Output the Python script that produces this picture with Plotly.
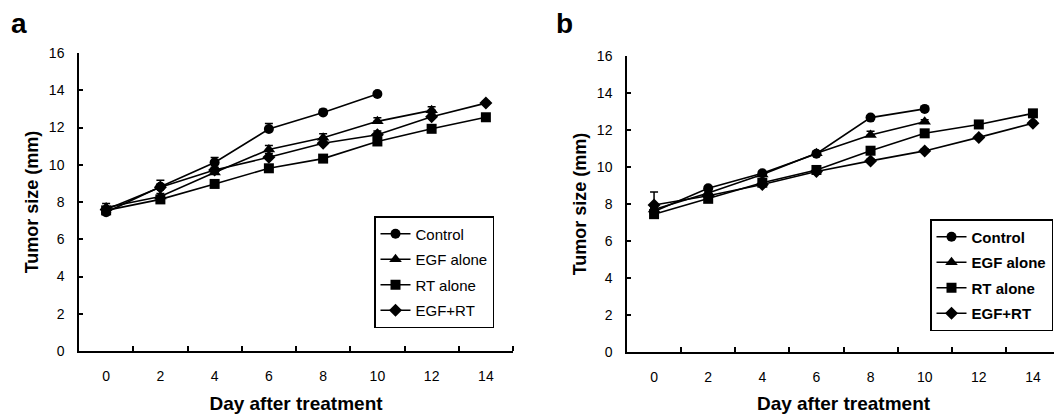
import plotly.graph_objects as go

# ---------------- data ----------------
days = [0, 2, 4, 6, 8, 10, 12, 14]
day_labels = ["0", "2", "4", "6", "8", "10", "12", "14"]
y_ticks = [0, 2, 4, 6, 8, 10, 12, 14, 16]
series_names = ["Control", "EGF alone", "RT alone", "EGF+RT"]

# Panel a
a_control = [7.45, 8.82, 10.12, 11.92, 12.81, 13.80]
a_control_err = [0.15, 0.35, 0.27, 0.30, 0.15, 0.10]
a_egf = [7.70, 8.30, 9.58, 10.82, 11.45, 12.33, 12.92]
a_egf_err = [0.22, 0.15, 0.20, 0.22, 0.22, 0.20, 0.20]
a_rt = [7.55, 8.14, 8.97, 9.81, 10.33, 11.25, 11.93, 12.55]
a_rt_err = [0.10, 0.10, 0.10, 0.10, 0.10, 0.10, 0.10, 0.10]
a_egfrt = [7.60, 8.79, 9.72, 10.40, 11.15, 11.61, 12.58, 13.31]
a_egfrt_err = [0.10, 0.15, 0.15, 0.20, 0.20, 0.20, 0.20, 0.10]

# Panel b
b_control = [7.60, 8.85, 9.66, 10.72, 12.67, 13.14]
b_control_err = [0.10, 0.10, 0.10, 0.10, 0.10, 0.10]
b_egf = [7.70, 8.60, 9.60, 10.74, 11.73, 12.45]
b_egf_err = [0.10, 0.10, 0.10, 0.10, 0.20, 0.10]
b_rt = [7.45, 8.28, 9.15, 9.84, 10.88, 11.82, 12.30, 12.90]
b_rt_err = [0.10, 0.10, 0.10, 0.10, 0.10, 0.10, 0.10, 0.10]
b_egfrt = [7.95, 8.45, 9.05, 9.76, 10.33, 10.87, 11.60, 12.37]
b_egfrt_err = [0.70, 0.10, 0.10, 0.10, 0.10, 0.10, 0.10, 0.10]

symbols = ["circle", "triangle-up", "square", "diamond"]
sizes = [10, 11, 10, 10]

FONT = "Liberation Sans, Arial, sans-serif"
# the page body has an 8px default margin; the figure fills the rest
OFF = 8
W, H = 1062 - OFF, 414 - OFF

fig = go.Figure()

panels = [
    ("x", "y", "legend", [a_control, a_egf, a_rt, a_egfrt],
     [a_control_err, a_egf_err, a_rt_err, a_egfrt_err]),
    ("x2", "y2", "legend2", [b_control, b_egf, b_rt, b_egfrt],
     [b_control_err, b_egf_err, b_rt_err, b_egfrt_err]),
]

for xa, ya, leg, vals, errs in panels:
    for i, name in enumerate(series_names):
        v = vals[i]
        fig.add_trace(go.Scatter(
            x=days[:len(v)], y=v, name=name, mode="lines+markers",
            xaxis=xa, yaxis=ya, legend=leg, legendgroup=leg + name,
            line=dict(color="black", width=1.6),
            marker=dict(symbol=symbols[i], size=sizes[i], color="black"),
            error_y=dict(type="data", array=errs[i], arrayminus=[0] * len(v),
                         symmetric=False, color="black", thickness=1.5, width=4),
            showlegend=True,
        ))


def px_x(p):
    return (p - OFF) / W


def px_y(p):
    return 1 - (p - OFF) / H


axis_common = dict(
    showline=True, linecolor="black", linewidth=1.5, mirror=False,
    showgrid=False, zeroline=False,
    tickfont=dict(family=FONT, size=14, color="black"),
    automargin=False,
)

x_common = dict(
    axis_common, range=[-1, 15], tickmode="array", tickvals=days,
    ticktext=day_labels, ticks="", ticklabelstandoff=11,
    minor=dict(tickmode="array", tickvals=[1, 3, 5, 7, 9, 11, 13, 15],
               ticks="inside", ticklen=5, tickwidth=1.5, tickcolor="black"),
    title=dict(text="<b>Day after treatment</b>",
               font=dict(family=FONT, size=19, color="black"), standoff=15),
)
y_common = dict(
    axis_common, range=[0, 16], tickmode="array", tickvals=y_ticks,
    ticks="inside", ticklen=4, tickwidth=1.5, tickcolor="black",
    ticklabelstandoff=10,
    title=dict(text="<b>Tumor size (mm)</b>",
               font=dict(family=FONT, size=18, color="black"), standoff=6),
)

legend_common = dict(
    bordercolor="black", borderwidth=1.5, bgcolor="white",
    itemwidth=30, tracegroupgap=3, traceorder="grouped",
    xanchor="left", yanchor="top", xref="paper", yref="paper",
    itemclick=False,
)

fig.update_layout(
    width=W, height=H,
    margin=dict(l=0, r=0, t=0, b=0),
    paper_bgcolor="white", plot_bgcolor="white",
    showlegend=True,
    xaxis=dict(x_common, domain=[px_x(79), px_x(513)], anchor="y"),
    yaxis=dict(y_common, domain=[px_y(351), px_y(53)], anchor="x"),
    xaxis2=dict(x_common, domain=[px_x(627), px_x(1060)], anchor="y2"),
    yaxis2=dict(y_common, domain=[px_y(352), px_y(56)], anchor="x2"),
    legend=dict(legend_common, x=px_x(374), y=px_y(216),
                font=dict(family=FONT, size=15, color="black")),
    legend2=dict(legend_common, x=px_x(930), y=px_y(219),
                 font=dict(family=FONT, size=15, color="black", weight="bold")),
    annotations=[
        dict(text="<b>a</b>", x=px_x(9), y=px_y(6), xref="paper", yref="paper",
             xanchor="left", yanchor="top", showarrow=False,
             font=dict(family=FONT, size=28, color="black")),
        dict(text="<b>b</b>", x=px_x(554), y=px_y(6), xref="paper", yref="paper",
             xanchor="left", yanchor="top", showarrow=False,
             font=dict(family=FONT, size=28, color="black")),
    ],
)

fig.write_html("out.html")
